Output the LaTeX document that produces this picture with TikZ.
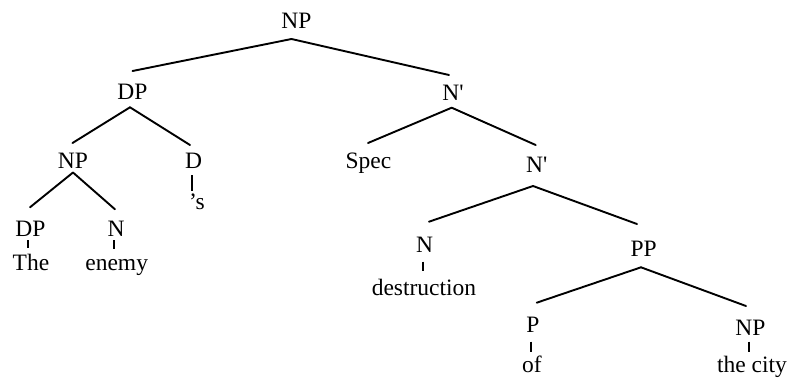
\documentclass[tikz,border=0pt]{standalone}
\usepackage{fontspec}
\setmainfont{Liberation Serif}[Ligatures=TeXOff]
\begin{document}
\begin{tikzpicture}[x=1bp,y=-1bp,
  lbl/.style={anchor=base,inner sep=0pt,font=\fontsize{23.5bp}{28bp}\selectfont},
  edge/.style={line width=1.9bp,line cap=round},
  tick/.style={line width=1.8bp}]
\useasboundingbox (0,0) rectangle (790,378);
% labels
\node[lbl] (np0) at (296.5,28.3) {NP};
\node[lbl] (dp1) at (132.5,99.3) {DP};
\node[lbl] (nb1) at (453,100) {N'};
\node[lbl] (np2) at (73,168) {NP};
\node[lbl] (d2) at (193.5,168) {D};
\node[lbl] (spec) at (368.5,168.5) {Spec};
\node[lbl] (nb2) at (536.7,172.5) {N'};
\node[lbl] (s2) at (197,209.5) {’s};
\node[lbl] (dp3) at (30.5,236) {DP};
\node[lbl] (n3) at (116,236) {N};
\node[lbl] (the) at (31,270) {The};
\node[lbl] (enemy) at (116.7,270) {enemy};
\node[lbl] (n4) at (424.7,252.7) {N};
\node[lbl] (destr) at (424,295) {destruction};
\node[lbl] (pp4) at (643.7,256) {PP};
\node[lbl] (p5) at (533,332) {P};
\node[lbl] (np5) at (750.5,335) {NP};
\node[lbl] (of) at (532,372.3) {of};
\node[lbl] (city) at (752,372.3) {the city};
% connector end points
\coordinate (np0b) at (291.5,39);
\coordinate (dp1t) at (132.5,71);
\coordinate (nb1t) at (449,75);
\coordinate (dp1b) at (130,107.3);
\coordinate (np2t) at (72.5,143);
\coordinate (d2t) at (190,145);
\coordinate (nb1b) at (451.7,107.7);
\coordinate (spect) at (368,143);
\coordinate (nb2t) at (535.7,145);
\coordinate (np2b) at (73,172.5);
\coordinate (dp3t) at (30,207.3);
\coordinate (n3t) at (115,209.3);
\coordinate (nb2b) at (533,186);
\coordinate (n4t) at (429,221.7);
\coordinate (pp4t) at (637,224);
\coordinate (pp4b) at (641,267.3);
\coordinate (p5t) at (536.7,302.7);
\coordinate (np5t) at (746,306);
% tree edges
\draw[edge] (np0b) -- (dp1t);
\draw[edge] (np0b) -- (nb1t);
\draw[edge] (dp1b) -- (np2t);
\draw[edge] (dp1b) -- (d2t);
\draw[edge] (nb1b) -- (spect);
\draw[edge] (nb1b) -- (nb2t);
\draw[edge] (np2b) -- (dp3t);
\draw[edge] (np2b) -- (n3t);
\draw[edge] (nb2b) -- (n4t);
\draw[edge] (nb2b) -- (pp4t);
\draw[edge] (pp4b) -- (p5t);
\draw[edge] (pp4b) -- (np5t);
% vertical ticks to words
\draw[tick] ([yshift=-7bp]d2.base -| 192.3,0) -- ([yshift=-23bp]d2.base -| 192.3,0);
\draw[tick] ([yshift=-4bp]dp3.base -| 28.3,0) -- ([yshift=-12.3bp]dp3.base -| 28.3,0);
\draw[tick] ([yshift=-4bp]n3.base -| 114,0) -- ([yshift=-13bp]n3.base -| 114,0);
\draw[tick] ([yshift=-9bp]n4.base -| 423.3,0) -- ([yshift=-18.3bp]n4.base -| 423.3,0);
\draw[tick] ([yshift=-9.7bp]p5.base -| 530.7,0) -- ([yshift=-19.7bp]p5.base -| 530.7,0);
\draw[tick] ([yshift=-6.7bp]np5.base -| 749.3,0) -- ([yshift=-16.5bp]np5.base -| 749.3,0);
\end{tikzpicture}
\end{document}
